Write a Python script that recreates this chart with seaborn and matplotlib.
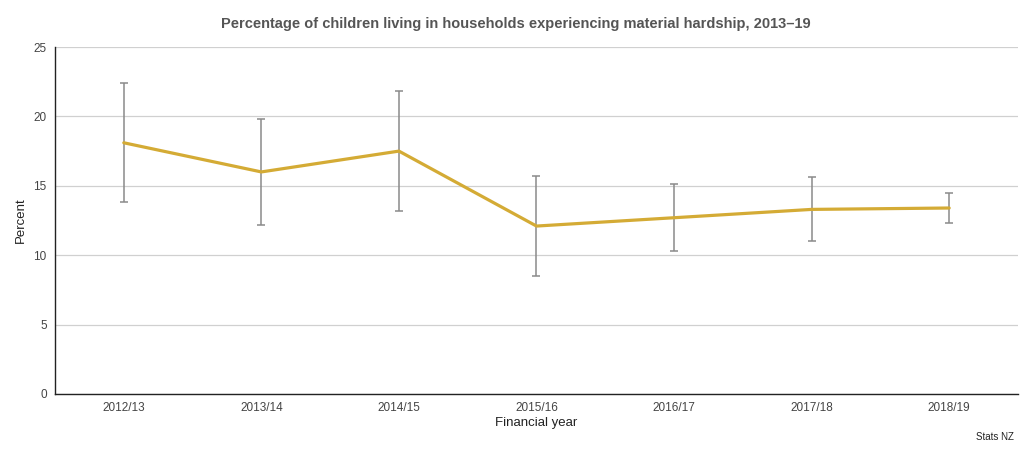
import matplotlib
matplotlib.use("Agg")
import matplotlib.pyplot as plt
import seaborn as sns
import pandas as pd

# data
years = ['2012/13', '2013/14', '2014/15', '2015/16', '2016/17', '2017/18', '2018/19']
percent = [18.1, 16.0, 17.5, 12.1, 12.7, 13.3, 13.4]
upper = [22.4, 19.8, 21.8, 15.7, 15.1, 15.6, 14.5]
lower = [13.8, 12.2, 13.2, 8.5, 10.3, 11.0, 12.3]

df = pd.DataFrame({'year': years, 'percent': percent,
                   'upper': upper, 'lower': lower})
df['pos'] = range(len(df))

sns.set_style('white')
plt.rcParams['font.family'] = ['Liberation Sans', 'DejaVu Sans']

fig = plt.figure(figsize=(10.32, 4.49), dpi=100)
ax = fig.add_axes([0.0533, 0.1225, 0.9331, 0.7728])

# error bars first so the line sits on top
err = [df['percent'] - df['lower'], df['upper'] - df['percent']]
ax.errorbar(df['pos'], df['percent'], yerr=err, fmt='none',
            ecolor='#8a8a8a', elinewidth=1.1, capsize=3, capthick=1.1, zorder=2)
sns.lineplot(data=df, x='pos', y='percent', color='#d4ab35', linewidth=2.3,
             ax=ax, zorder=3)

ax.set_xlim(-0.5, len(df) - 0.5)
ax.set_ylim(0, 25)
ax.set_yticks([0, 5, 10, 15, 20, 25])
ax.set_xticks(df['pos'])
ax.set_xticklabels(df['year'])

ax.yaxis.grid(True, color='#d0d0d0', linewidth=0.9)
ax.set_axisbelow(True)
for side in ['top', 'right']:
    ax.spines[side].set_visible(False)
ax.spines['left'].set_color('#222222')
ax.spines['bottom'].set_color('#222222')
ax.spines['left'].set_linewidth(1.0)
ax.spines['bottom'].set_linewidth(1.0)
ax.tick_params(axis='both', length=0, labelsize=8.5, labelcolor='#444444', pad=6)

ax.set_xlabel('Financial year', fontsize=9.5, color='#222222', labelpad=2)
ax.set_ylabel('Percent', fontsize=9.5, color='#222222', labelpad=5)
fig.suptitle('Percentage of children living in households experiencing material hardship, 2013\u201319',
             x=0.5, y=0.962, fontsize=10.5, fontweight='bold', color='#555555')
fig.text(0.982, 0.015, 'Stats NZ', fontsize=7, color='#222222', ha='right', va='bottom')

fig.savefig('out.png', dpi=100)
